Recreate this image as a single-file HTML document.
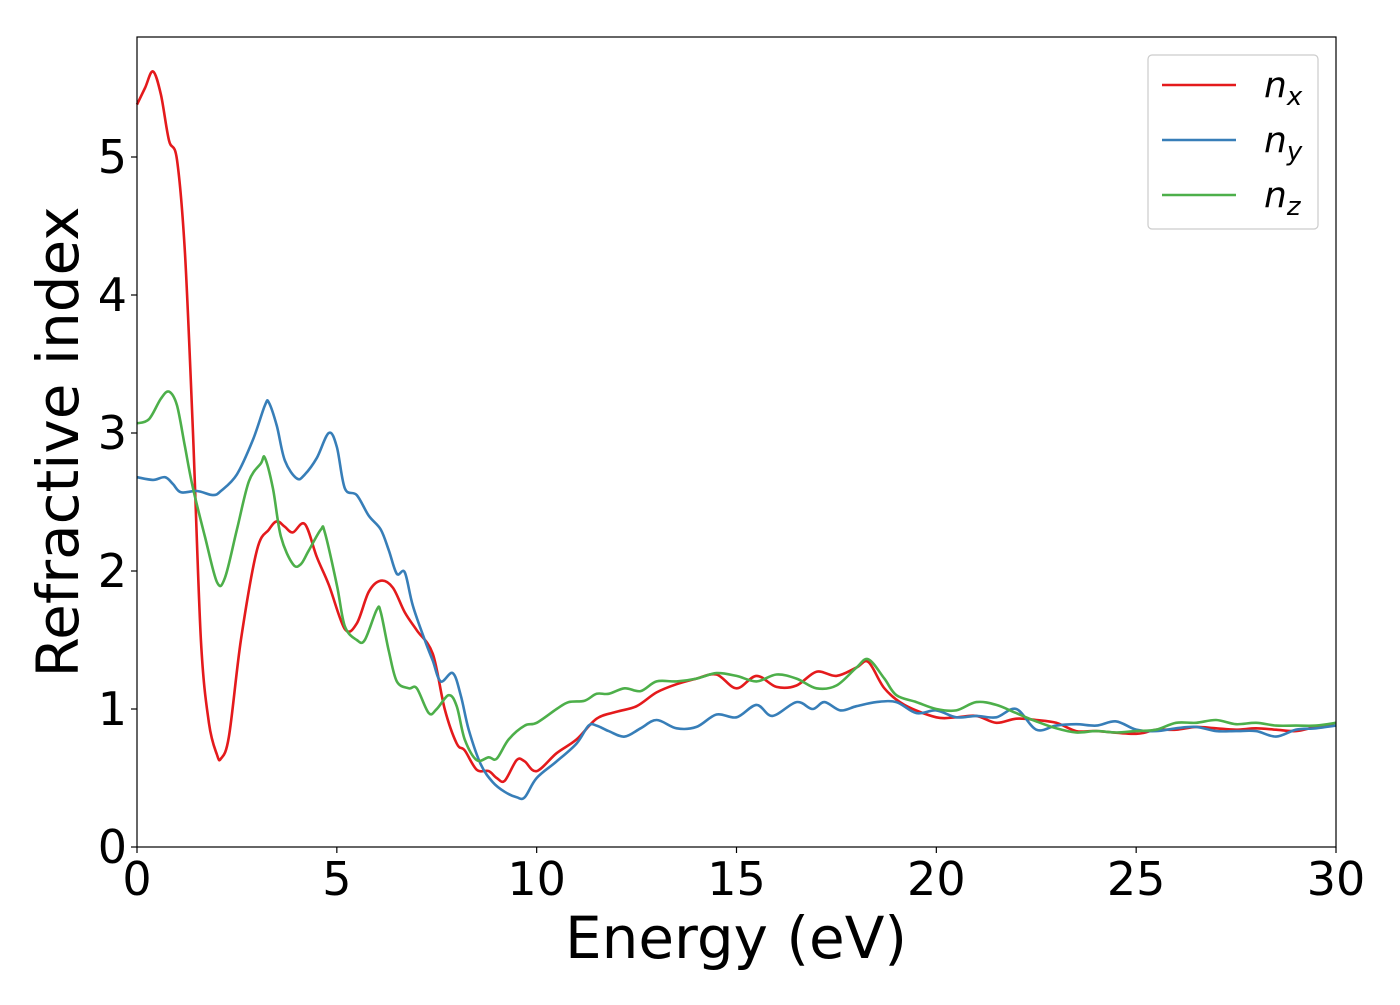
<!DOCTYPE html>
<html><head><meta charset="utf-8"><style>
body{margin:0;background:#fff}
svg text{font-family:"DejaVu Sans","Liberation Sans",sans-serif;fill:#000}
</style></head><body>
<svg id="chart" width="1400" height="1000" xmlns="http://www.w3.org/2000/svg">
<g id="plot"></g>
</svg>
<script>
const energyX=[0,0.2,0.4,0.6,0.8,1.0,1.2,1.4,1.6,1.8,2.0,2.1,2.3,2.6,3.0,3.3,3.5,3.7,3.9,4.2,4.5,4.8,5.2,5.5,5.8,6.1,6.4,6.7,7.0,7.4,7.7,8.0,8.2,8.5,8.8,9.0,9.2,9.5,9.7,10,10.5,11,11.5,12,12.5,13,13.5,14,14.5,15,15.5,16,16.5,17,17.5,18,18.3,18.7,19.2,20,20.5,21,21.5,22,22.5,23,23.5,24,25,25.5,26,26.5,27,27.5,28,28.5,29,29.5,30];
const nxValues=[5.38,5.5,5.62,5.45,5.12,4.98,4.3,3.0,1.5,0.9,0.67,0.64,0.8,1.5,2.15,2.3,2.36,2.32,2.28,2.34,2.1,1.9,1.58,1.62,1.85,1.93,1.88,1.7,1.57,1.4,1.0,0.75,0.7,0.56,0.55,0.5,0.48,0.63,0.62,0.55,0.68,0.78,0.93,0.98,1.02,1.12,1.18,1.22,1.25,1.15,1.24,1.16,1.17,1.27,1.24,1.3,1.34,1.15,1.03,0.94,0.94,0.95,0.9,0.93,0.92,0.9,0.84,0.84,0.82,0.85,0.85,0.87,0.86,0.85,0.86,0.85,0.84,0.87,0.88];
const energyY=[0,0.4,0.7,0.9,1.1,1.5,1.9,2.1,2.5,2.9,3.2,3.3,3.5,3.7,4.0,4.2,4.5,4.8,5.0,5.2,5.5,5.8,6.1,6.3,6.5,6.7,6.9,7.2,7.4,7.6,7.9,8.1,8.3,8.6,8.9,9.2,9.5,9.7,10,10.5,11,11.3,11.5,11.8,12.2,12.6,13,13.5,14,14.5,15,15.5,15.9,16.5,16.9,17.2,17.6,18,18.5,19,19.5,20,20.5,21,21.5,22,22.5,23,23.5,24,24.5,25,25.5,26,26.5,27,27.5,28,28.5,29,29.5,30];
const nyValues=[2.68,2.66,2.68,2.63,2.57,2.58,2.55,2.58,2.7,2.95,3.2,3.22,3.05,2.8,2.67,2.7,2.82,3.0,2.9,2.6,2.55,2.4,2.3,2.15,1.98,1.99,1.75,1.5,1.35,1.2,1.26,1.1,0.85,0.6,0.47,0.4,0.36,0.36,0.5,0.62,0.75,0.88,0.88,0.84,0.8,0.86,0.92,0.86,0.87,0.96,0.94,1.03,0.95,1.05,1.0,1.05,0.99,1.02,1.05,1.05,0.97,0.99,0.94,0.95,0.94,1.0,0.85,0.88,0.89,0.88,0.91,0.85,0.84,0.86,0.87,0.84,0.84,0.84,0.8,0.85,0.86,0.88];
const energyZ=[0,0.3,0.6,0.8,1.0,1.2,1.4,1.7,2.0,2.2,2.5,2.8,3.1,3.2,3.4,3.6,3.9,4.1,4.3,4.6,4.7,5.0,5.2,5.5,5.7,6.0,6.1,6.3,6.5,6.8,7.0,7.3,7.5,7.8,8.0,8.2,8.5,8.8,9.0,9.3,9.7,10,10.5,10.8,11.2,11.5,11.8,12.2,12.6,13,13.5,14,14.5,15,15.5,16,16.5,17,17.5,18,18.3,18.7,19,19.5,20,20.5,21,21.5,22,22.5,23,23.5,24,24.5,25,25.5,26,26.5,27,27.5,28,28.5,29,29.5,30];
const nzValues=[3.07,3.1,3.25,3.3,3.2,2.9,2.6,2.25,1.92,1.95,2.3,2.65,2.78,2.82,2.6,2.25,2.05,2.05,2.15,2.3,2.28,1.9,1.6,1.5,1.5,1.72,1.7,1.42,1.2,1.15,1.15,0.97,1.0,1.1,1.02,0.78,0.63,0.65,0.64,0.78,0.88,0.9,1.0,1.05,1.06,1.11,1.11,1.15,1.13,1.2,1.2,1.22,1.26,1.24,1.2,1.25,1.22,1.15,1.17,1.3,1.36,1.22,1.1,1.05,1.0,0.99,1.05,1.03,0.97,0.91,0.86,0.83,0.84,0.83,0.84,0.85,0.9,0.9,0.92,0.89,0.9,0.88,0.88,0.88,0.9];
const xTicks=[0,5,10,15,20,25,30];
const yTicks=[0,1,2,3,4,5];

const X0=137,X1=1336,Y0=847,YT=37;
const xs=v=>X0+(v-0)/30*(X1-X0);
const ys=v=>Y0-v*138;
const NS="http://www.w3.org/2000/svg";
const g=document.getElementById('plot');
function mk(t,a){const e=document.createElementNS(NS,t);for(const k in a)e.setAttribute(k,a[k]);g.appendChild(e);return e;}
function smooth(xa,ya){
  const p=xa.map((x,i)=>[xs(x),ys(ya[i])]);
  let d='M'+p[0][0].toFixed(1)+','+p[0][1].toFixed(1);
  for(let i=0;i<p.length-1;i++){
    const a=p[Math.max(0,i-1)],b=p[i],c=p[i+1],e=p[Math.min(p.length-1,i+2)];
    const c1=[b[0]+(c[0]-a[0])/6,b[1]+(c[1]-a[1])/6],c2=[c[0]-(e[0]-b[0])/6,c[1]-(e[1]-b[1])/6];
    d+='C'+c1.map(v=>v.toFixed(1))+' '+c2.map(v=>v.toFixed(1))+' '+c[0].toFixed(1)+','+c[1].toFixed(1);
  }
  return d;
}
let s=mk('path',{d:smooth(energyX,nxValues),fill:'none',stroke:'#e41a1c','stroke-width':2.6});


s=mk('path',{d:smooth(energyY,nyValues),fill:'none',stroke:'#377eb8','stroke-width':2.6});


s=mk('path',{d:smooth(energyZ,nzValues),fill:'none',stroke:'#4daf4a','stroke-width':2.6});


const fr=mk('rect',{x:X0,y:YT,width:X1-X0,height:Y0-YT,fill:'none',stroke:'#000','stroke-width':1.2});


xTicks.forEach(t=>{
  mk('line',{x1:xs(t),x2:xs(t),y1:Y0,y2:Y0+6,stroke:'#000','stroke-width':1.2});
  const tx=mk('text',{x:xs(t),y:Y0+48,'text-anchor':'middle','font-size':46});
  tx.textContent=t;
  
  
});
yTicks.forEach(t=>{
  mk('line',{x1:X0-6,x2:X0,y1:ys(t),y2:ys(t),stroke:'#000','stroke-width':1.2});
  const tx=mk('text',{x:X0-10,y:ys(t)+16,'text-anchor':'end','font-size':46});
  tx.textContent=t;
  
  
});
let t=mk('text',{x:736,y:958,'text-anchor':'middle','font-size':58});
t.textContent='Energy (eV)';


t=mk('text',{x:78,y:442,'text-anchor':'middle','font-size':58,transform:'rotate(-90 78 442)'});
t.textContent='Refractive index';


const lg=mk('rect',{x:1148,y:55,width:170,height:174,rx:4,fill:'#fff',stroke:'#ccc','stroke-width':1.2});


[['#e41a1c','x',85],['#377eb8','y',140],['#4daf4a','z',195]].forEach(([c,sub,y])=>{
  mk('line',{x1:1162,x2:1236,y1:y,y2:y,stroke:c,'stroke-width':2.6});
  const tx=mk('text',{x:1264,y:y+12,'font-size':36,'font-style':'italic'});
  tx.innerHTML='n<tspan font-size="26" dy="8">'+sub+'</tspan>';
  
  
});
</script>
</body></html>
